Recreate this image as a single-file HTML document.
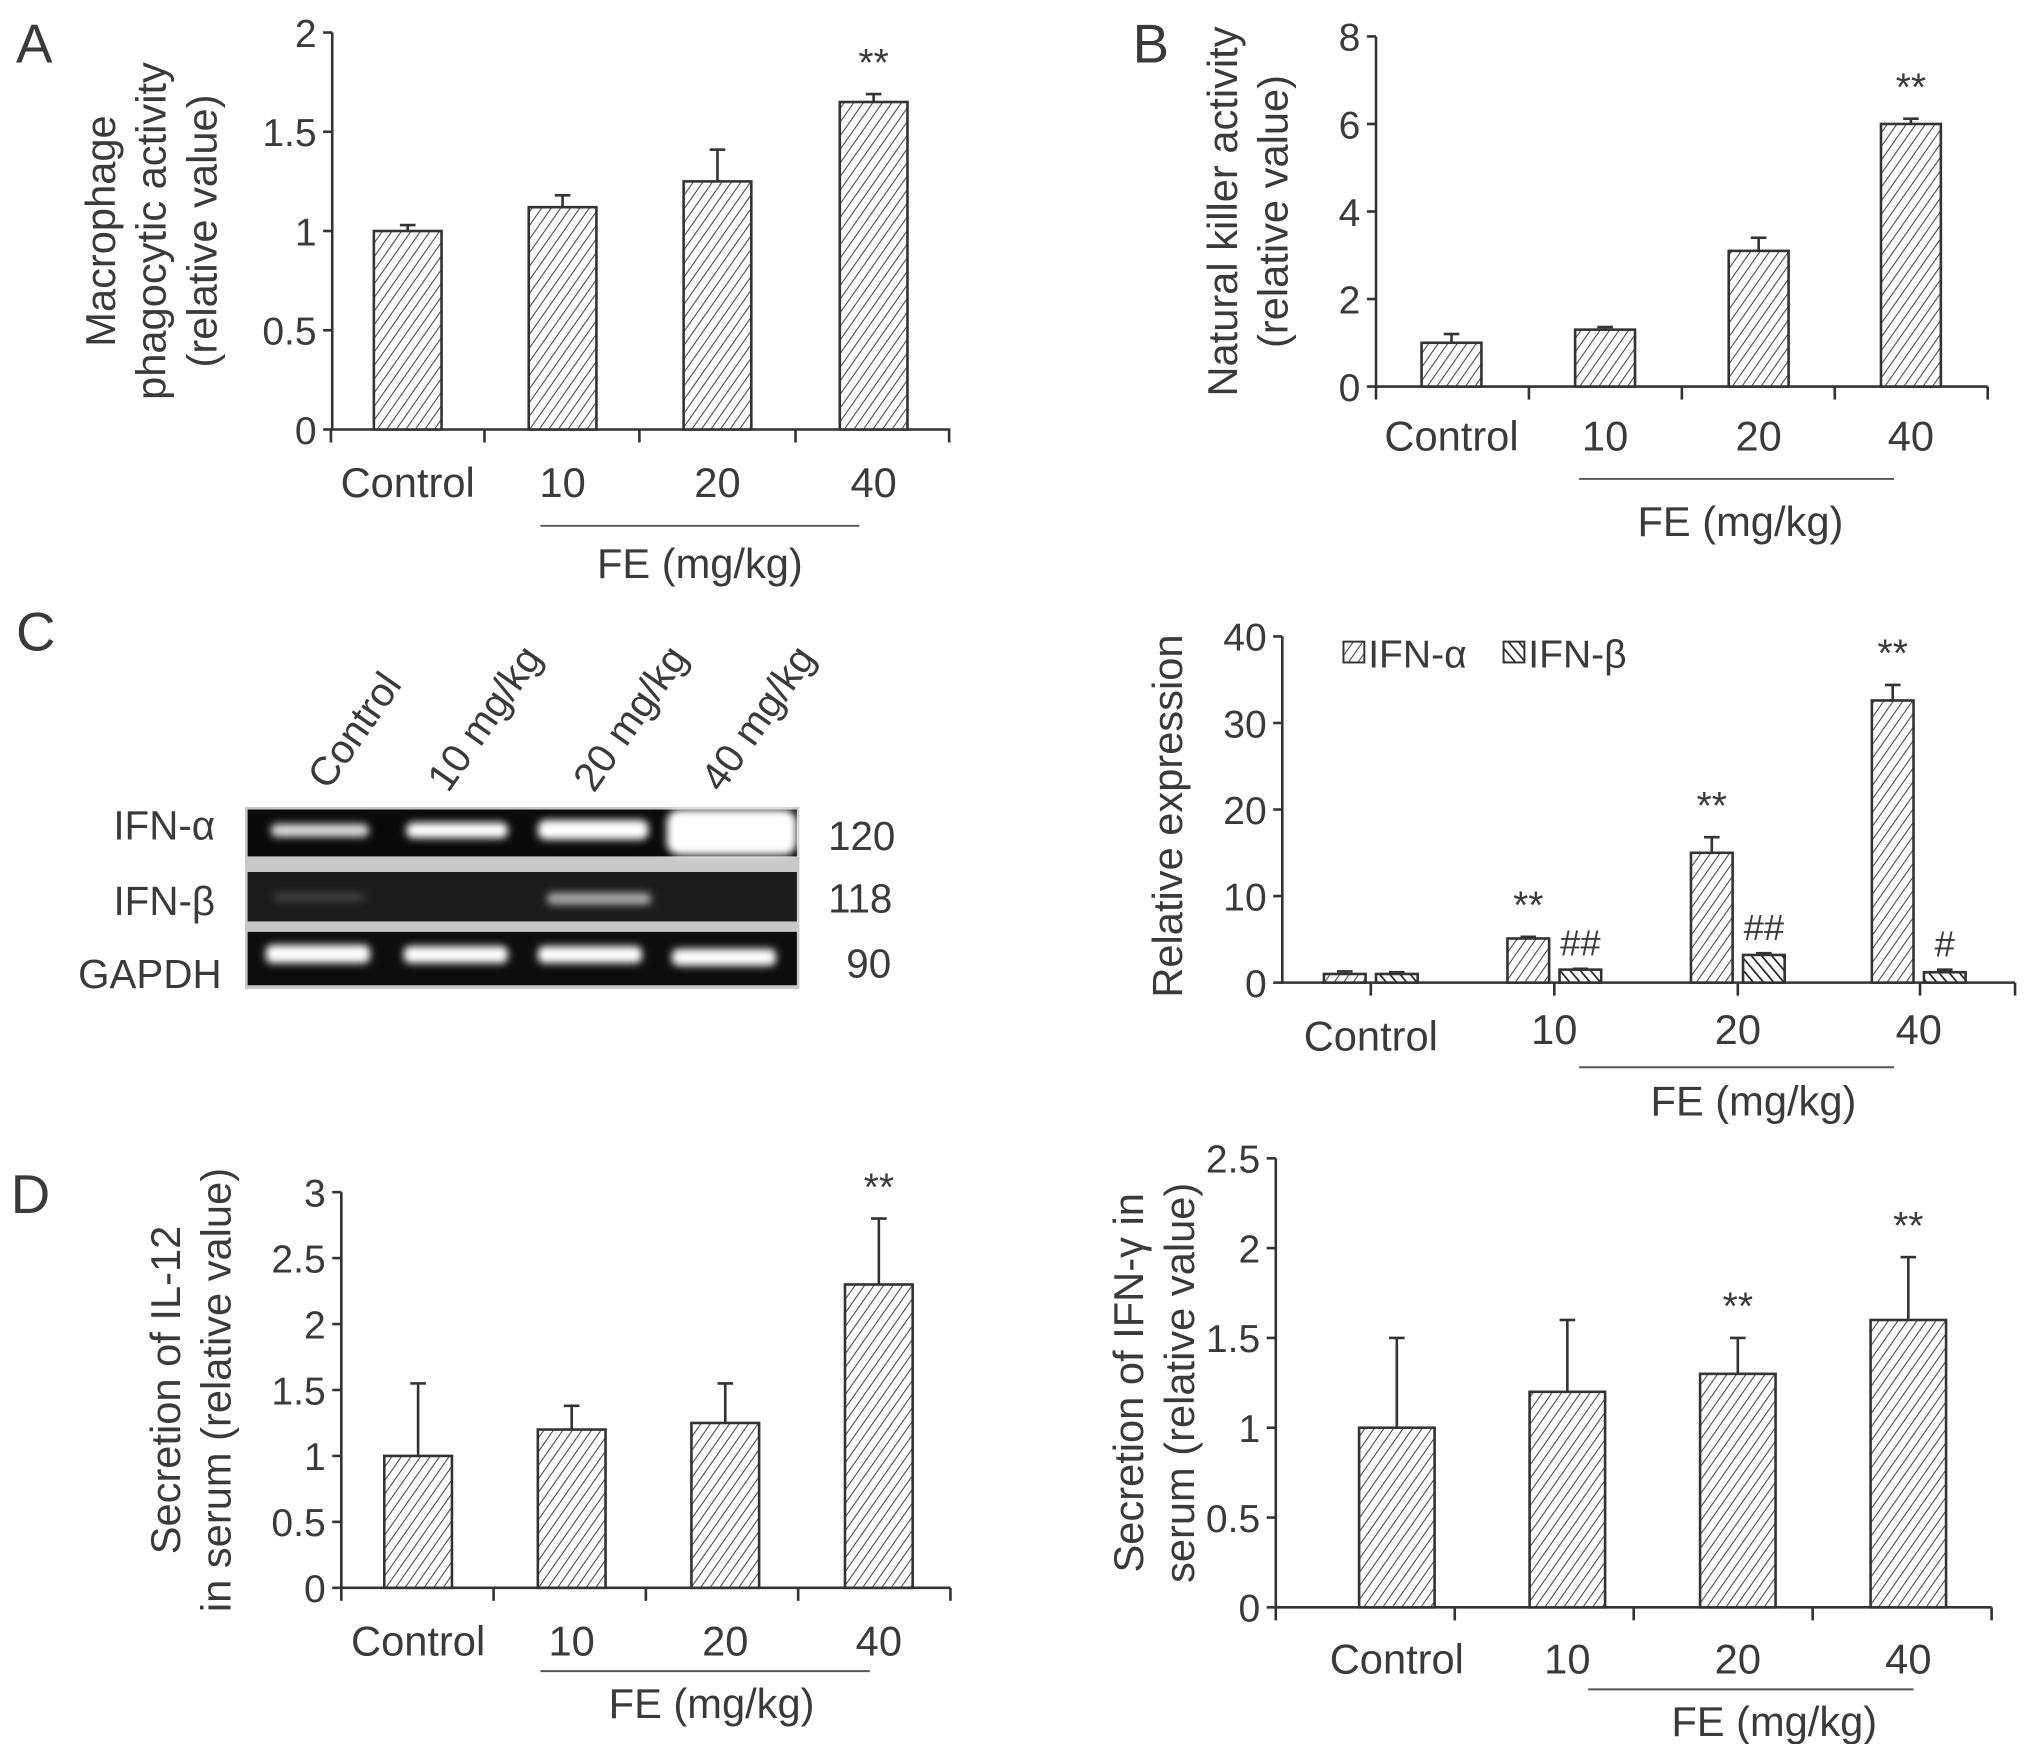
<!DOCTYPE html>
<html><head><meta charset="utf-8"><style>
html,body{margin:0;padding:0;background:#fff}
svg{display:block}
text{font-family:"Liberation Sans",sans-serif;fill:#3a3a3a}
</style></head><body>
<svg id="fig" xmlns="http://www.w3.org/2000/svg" width="2031" height="1744" viewBox="0 0 1560 1340">
<defs>
<pattern id="hatchA" patternUnits="userSpaceOnUse" width="6" height="6" patternTransform="rotate(35)">
<rect width="6" height="6" fill="#fff"/><line x1="0" y1="0" x2="0" y2="6" stroke="#444" stroke-width="1.6"/></pattern>
<pattern id="hatchB" patternUnits="userSpaceOnUse" width="6" height="6" patternTransform="rotate(-40)">
<rect width="6" height="6" fill="#fff"/><line x1="0" y1="0" x2="0" y2="6" stroke="#222" stroke-width="2.6"/></pattern>
<filter id="blur"><feGaussianBlur stdDeviation="3"/></filter>
</defs>
<text x="12" y="48" font-size="42">A</text>
<text x="870" y="48" font-size="42">B</text>
<text x="12" y="500" font-size="42">C</text>
<text x="8" y="932" font-size="42">D</text>
<g id="gel">
<rect x="188" y="620" width="426" height="140" fill="#c8c8c8"/>
<rect x="190" y="622" width="422" height="36" fill="#0a0a0a"/>
<rect x="190" y="670" width="422" height="38" fill="#1c1c1c"/>
<rect x="190" y="716" width="422" height="41" fill="#0d0d0d"/>
<g filter="url(#blur)" fill="#fff">
<rect x="208" y="633" width="75" height="10" rx="4" fill="#ddd"/>
<rect x="312" y="632" width="78" height="12" rx="5"/>
<rect x="413" y="630" width="85" height="15" rx="6"/>
<rect x="512" y="622" width="100" height="35" rx="10"/>
<rect x="420" y="686" width="80" height="9" rx="4" fill="#aaa"/>
<rect x="210" y="686" width="70" height="6" rx="3" fill="#444"/>
<rect x="204" y="726" width="80" height="14" rx="5"/>
<rect x="310" y="727" width="80" height="13" rx="5"/>
<rect x="413" y="727" width="80" height="13" rx="5"/>
<rect x="516" y="729" width="80" height="13" rx="5"/>
</g>
<text x="165" y="645" font-size="31" text-anchor="end">IFN-α</text>
<text x="165" y="703" font-size="31" text-anchor="end">IFN-β</text>
<text x="170" y="759" font-size="31" text-anchor="end">GAPDH</text>
<text x="636" y="653" font-size="31">120</text>
<text x="636" y="701" font-size="31">118</text>
<text x="650" y="751" font-size="31">90</text>
<text transform="translate(252,608) rotate(-55)" font-size="31">Control</text>
<text transform="translate(344,610) rotate(-55)" font-size="31">10 mg/kg</text>
<text transform="translate(456,610) rotate(-55)" font-size="31">20 mg/kg</text>
<text transform="translate(554,610) rotate(-55)" font-size="31">40 mg/kg</text>
</g>
<g id="charts"></g>
</svg>
<script>
const NS="http://www.w3.org/2000/svg";
const catLabels=["Control","10","20","40"];
const aVals=[1.0,1.12,1.25,1.65];
const aErr=[0.03,0.06,0.16,0.04];
const aSig=["","","","**"];
const aTicks=["0","0.5","1","1.5","2"];
const bVals=[1.0,1.3,3.1,6.0];
const bErr=[0.2,0.06,0.3,0.12];
const bSig=["","","","**"];
const bTicks=["0","2","4","6","8"];
const cAlpha=[1.0,5.1,15.0,32.6];
const cAlphaErr=[0.3,0.2,1.8,1.8];
const cAlphaSig=["","**","**","**"];
const cBeta=[1.0,1.5,3.2,1.2];
const cBetaErr=[0.2,0.1,0.2,0.3];
const cBetaSig=["","##","##","#"];
const cTicks=["0","10","20","30","40"];
const dVals=[1.0,1.2,1.25,2.3];
const dErr=[0.55,0.18,0.3,0.5];
const dSig=["","","","**"];
const dTicks=["0","0.5","1","1.5","2","2.5","3"];
const eVals=[1.0,1.2,1.3,1.6];
const eErr=[0.5,0.4,0.2,0.35];
const eSig=["","","**","**"];
const eTicks=["0","0.5","1","1.5","2","2.5"];
const root=document.getElementById('charts');
function mk(tag,attrs,parent,txt){const e=document.createElementNS(NS,tag);for(const k in attrs)e.setAttribute(k,attrs[k]);if(txt!==undefined)e.textContent=txt;parent.appendChild(e);return e;}
function chart(o){
  const g=mk('g',{},root);
  
  
  const max=parseFloat(o.ticks[o.ticks.length-1]);
  const y=v=>o.y0-(v/max)*(o.y0-o.yTop);
  const step=(o.xEnd-o.x0)/4;
  const cx=i=>o.centers?o.centers[i]:o.x0+step*(i+0.5);
  const ax=mk('path',{d:`M${o.x0} ${o.yTop}V${o.y0}H${o.xEnd}`,fill:'none',stroke:'#333','stroke-width':2},g);
  
  
  o.ticks.forEach(t=>{const v=parseFloat(t);const yy=y(v);
    mk('line',{x1:o.x0-7,x2:o.x0,y1:yy,y2:yy,stroke:'#333','stroke-width':2},g);
    const tl=mk('text',{x:o.x0-12,y:yy+11,'font-size':30,'text-anchor':'end'},g,t);
    
    });
  for(let i=0;i<=4;i++){const xx=o.tickAt?o.tickAt(i):o.x0+step*i;mk('line',{x1:xx,x2:xx,y1:o.y0,y2:o.y0+10,stroke:'#333','stroke-width':2},g);}
  catLabels.forEach((c,i)=>{const tl=mk('text',{x:cx(i)+(o.lblDx?o.lblDx[i]:0),y:o.lblY+(o.lblDy?o.lblDy[i]:0),'font-size':32,'text-anchor':'middle'},g,c);
    
    });
  o.series.forEach(s=>{
    s.vals.forEach((v,i)=>{const x=cx(i)+s.off-o.bw/2;const top=y(v);const et=y(v+s.err[i]);
      mk('line',{x1:x+o.bw/2,x2:x+o.bw/2,y1:top,y2:et,stroke:'#333','stroke-width':2},g);
      mk('line',{x1:x+o.bw/2-6,x2:x+o.bw/2+6,y1:et,y2:et,stroke:'#333','stroke-width':2},g);
      const r=mk('rect',{x:x,y:top,width:o.bw,height:o.y0-top,fill:`url(#${s.pat})`,stroke:'#333','stroke-width':2},g);
      
      
      if(s.sig[i]){const t=mk('text',{x:x+o.bw/2,y:et-(s.sig[i][0]=='#'?10:14),'font-size':s.sig[i][0]=='#'?28:30,'text-anchor':'middle'},g,s.sig[i]);
        
        }
    });
  });
  mk('line',{x1:o.fe[0],x2:o.fe[1],y1:o.fe[2],y2:o.fe[2],stroke:'#555','stroke-width':1.5},g);
  const fe=mk('text',{x:(o.fe[0]+o.fe[1])/2+o.fe[4],y:o.fe[3],'font-size':32,'text-anchor':'middle'},g,'FE (mg/kg)');
  
  
  const yt=mk('text',{transform:`translate(${o.ytx},${(o.y0+o.yTop)/2+o.ytdy}) rotate(-90)`,'font-size':32,'text-anchor':'middle'},g);
  
  
  o.ytitle.forEach((l,k)=>{mk('tspan',{x:0,dy:k==0?0:39},yt,l);});
}
chart({name:'chart-macrophage',x0:255,xEnd:730,y0:330,yTop:25,ticks:aTicks,bw:52,centers:[313,432,551,671],tickAt:i=>[254,372,491,611,729][i],lblY:382,
  series:[{key:'fe',vals:aVals,err:aErr,sig:aSig,off:0,pat:'hatchA'}],fe:[415,660,404,444,0],ytitle:['Macrophage','phagocytic activity','(relative value)'],ytx:88,ytdy:0});
chart({name:'chart-natural-killer',x0:1057,xEnd:1527,y0:297,yTop:28,ticks:bTicks,bw:46,centers:[1115,1233,1351,1468],lblY:346,
  series:[{key:'fe',vals:bVals,err:bErr,sig:bSig,off:0,pat:'hatchA'}],fe:[1213,1455,368,412,3],ytitle:['Natural killer activity','(relative value)'],ytx:950,ytdy:0});
chart({name:'chart-ifn-expression',x0:985,xEnd:1548,y0:755,yTop:489,ticks:cTicks,bw:32,centers:[1053,1194,1335,1474],tickAt:i=>[1053,1194,1335,1475,1548][i],lblY:807,lblDy:[0,-5,-5,-5],
  series:[{key:'ifn-alpha',vals:cAlpha,err:cAlphaErr,sig:cAlphaSig,off:-20,pat:'hatchA'},{key:'ifn-beta',vals:cBeta,err:cBetaErr,sig:cBetaSig,off:20,pat:'hatchB'}],
  fe:[1213,1455,820,857,13],ytitle:['Relative expression'],ytx:908,ytdy:5});
chart({name:'chart-il12',x0:262,xEnd:730,y0:1220,yTop:916,ticks:dTicks,bw:52,centers:[321,439,557,675],lblY:1272,
  series:[{key:'fe',vals:dVals,err:dErr,sig:dSig,off:0,pat:'hatchA'}],fe:[415,668,1284,1320,5],ytitle:['Secretion of IL-12','in serum (relative value)'],ytx:138,ytdy:0});
chart({name:'chart-ifn-gamma',x0:980,xEnd:1530,y0:1235,yTop:890,ticks:eTicks,bw:58,centers:[1073,1204,1335,1466],lblY:1286,
  series:[{key:'fe',vals:eVals,err:eErr,sig:eSig,off:0,pat:'hatchA'}],fe:[1220,1470,1298,1334,18],ytitle:['Secretion of IFN-γ in','serum (relative value)'],ytx:878,ytdy:0});
const lg=mk('g',{},root);


mk('rect',{x:1032,y:493,width:16,height:16,fill:'url(#hatchA)',stroke:'#333','stroke-width':1.5},lg);
mk('text',{x:1051,y:513,'font-size':30},lg,'IFN-α');
mk('rect',{x:1155,y:493,width:16,height:16,fill:'url(#hatchB)',stroke:'#333','stroke-width':1.5},lg);
mk('text',{x:1174,y:513,'font-size':30},lg,'IFN-β');
</script>
</body></html>
